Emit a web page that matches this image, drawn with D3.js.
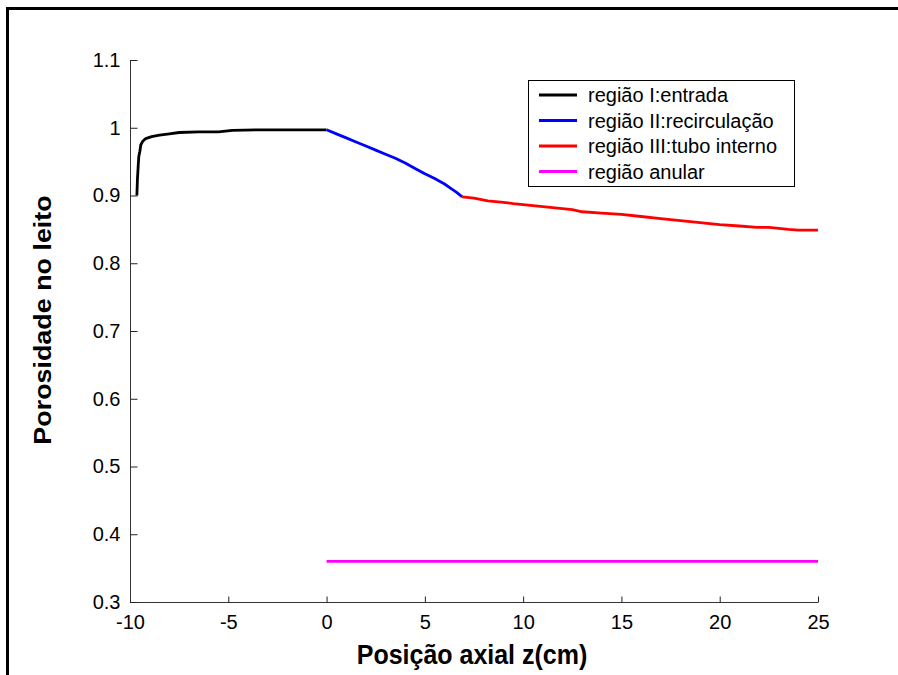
<!DOCTYPE html>
<html><head><meta charset="utf-8">
<script src="https://cdn.jsdelivr.net/npm/d3@7"></script>
<style>body{margin:0;background:#fff}svg{display:block}text{font-family:"Liberation Sans",Arial,sans-serif}</style>
</head><body><svg id="c" width="898" height="675"></svg>
<script>
const xTicks = [-10,-5,0,5,10,15,20,25];
const xTickLabels = ["-10","-5","0","5","10","15","20","25"];
const yTicks = [0.3,0.4,0.5,0.6,0.7,0.8,0.9,1.0,1.1];
const yTickLabels = ["0.3","0.4","0.5","0.6","0.7","0.8","0.9","1","1.1"];
const entradaX = [-9.65,-9.62,-9.58,-9.55,-9.5,-9.45,-9.35,-9.2,-8.9,-8.5,-8.0,-7.5,-6.5,-5.5,-4.8,-3.5,-2,-1,0];
const entradaY = [0.900,0.925,0.945,0.958,0.965,0.975,0.980,0.984,0.987,0.989,0.991,0.993,0.994,0.994,0.996,0.997,0.997,0.997,0.997];
const recircX = [0,0.5,1.0,1.5,2.0,2.5,3.0,3.5,4.0,4.5,5.0,5.5,6.0,6.3,6.6,6.9];
const recircY = [0.997,0.991,0.985,0.979,0.973,0.967,0.961,0.955,0.948,0.940,0.932,0.925,0.917,0.911,0.905,0.898];
const tuboX = [6.9,7.5,8.2,9.0,9.5,10.5,11.5,12.5,13.0,14.0,15.0,16.0,17.0,18.0,19.0,20.0,21.0,21.9,22.5,23.5,24.0,25.0];
const tuboY = [0.898,0.896,0.892,0.890,0.888,0.885,0.882,0.879,0.876,0.874,0.872,0.869,0.866,0.863,0.860,0.857,0.855,0.853,0.853,0.850,0.849,0.849];
const anularX = [0,25];
const anularY = [0.36,0.36];
const seriesNames = ["região I:entrada","região II:recirculação","região III:tubo interno","região anular"];
const seriesColors = ["#000000","#0000ff","#ff0000","#ff00ff"];

const svg = d3.select("#c");
// outer frame
svg.append("path").attr("d","M7.5,675 V8.5 H898").attr("fill","none").attr("stroke","#000").attr("stroke-width",3);

const x = d3.scaleLinear().domain([-10,25]).range([130,818]);
const y = d3.scaleLinear().domain([0.3,1.1]).range([602,60]);

const ax = svg.append("g").attr("transform","translate(0,602.5)")
  .call(d3.axisBottom(x).tickValues(xTicks).tickSize(-6).tickPadding(12).tickFormat((d,i)=>xTickLabels[i]));
const ay = svg.append("g").attr("transform","translate(130.5,0)")
  .call(d3.axisLeft(y).tickValues(yTicks).tickSize(-7).tickPadding(10).tickFormat((d,i)=>yTickLabels[i]));
[ax,ay].forEach(g=>{
  g.select(".domain").attr("stroke","#333").attr("stroke-width",1);
  g.selectAll(".tick line").attr("stroke","#222");
  g.selectAll(".tick text").attr("font-size",20).attr("fill","#000").attr("font-family","Liberation Sans, Arial, sans-serif");
});
ax.select(".domain").attr("d","M130,0H818");
ay.select(".domain").attr("d","M0,602V60");

const line = d3.line().x(d=>x(d[0])).y(d=>y(d[1]));
const series = [[entradaX,entradaY],[recircX,recircY],[tuboX,tuboY],[anularX,anularY]];
series.forEach((s,i)=>{
  svg.append("path").datum(s[0].map((v,j)=>[v,s[1][j]]))
    .attr("d",line).attr("fill","none").attr("stroke",seriesColors[i]).attr("stroke-width",2.8)
    .attr("stroke-linejoin","round");
});

// legend
const lg = svg.append("g");
lg.append("rect").attr("x",528.5).attr("y",80.5).attr("width",266).attr("height",106)
  .attr("fill","#fff").attr("stroke","#000").attr("stroke-width",1);
seriesNames.forEach((n,i)=>{
  const yy = 95 + i*25.5;
  lg.append("line").attr("x1",539).attr("x2",577).attr("y1",yy).attr("y2",yy)
    .attr("stroke",seriesColors[i]).attr("stroke-width",2.8);
  lg.append("text").attr("x",588).attr("y",yy+7).attr("font-size",20).text(n);
});

svg.append("text").attr("transform","translate(472,664) scale(1,1.1)").attr("text-anchor","middle")
  .attr("font-size",25).attr("font-weight","bold").text("Posição axial z(cm)");
svg.append("text").attr("transform","translate(51,320) rotate(-90) scale(1.12,1)").attr("text-anchor","middle")
  .attr("font-size",24).attr("font-weight","bold").text("Porosidade no leito");
</script></body></html>
